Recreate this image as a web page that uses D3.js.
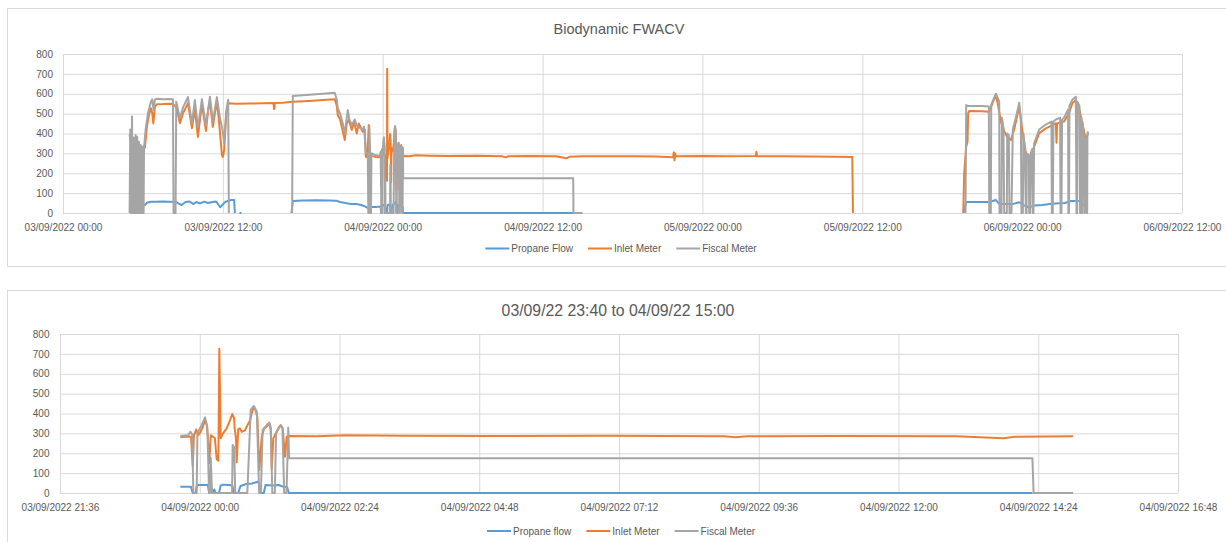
<!DOCTYPE html>
<html>
<head>
<meta charset="utf-8">
<script src="https://cdn.jsdelivr.net/npm/d3@7"></script>
<style>
  body { margin: 0; background: #fff; }
  svg { display: block; font-family: "Liberation Sans", Arial, sans-serif; }
</style>
</head>
<body>
<svg id="chart" width="1226" height="542"></svg>
<script>
// === Données (heures depuis le 03/09/2022 00:00, valeur) ===
const TOP_TICKS = ["03/09/2022 00:00", "03/09/2022 12:00", "04/09/2022 00:00", "04/09/2022 12:00",
  "05/09/2022 00:00", "05/09/2022 12:00", "06/09/2022 00:00", "06/09/2022 12:00"];
const ZOOM_TICKS = ["03/09/2022 21:36", "04/09/2022 00:00", "04/09/2022 02:24", "04/09/2022 04:48",
  "04/09/2022 07:12", "04/09/2022 09:36", "04/09/2022 12:00", "04/09/2022 14:24", "04/09/2022 16:48"];
const Y_TICKS = [0, 100, 200, 300, 400, 500, 600, 700, 800];
const ZOOM_FROM = "03/09/2022 23:40", ZOOM_TO = "04/09/2022 15:00";

const propaneFlow = [
  [5.0, 37], [5.3, 35], [5.6, 32], [6.0, 35], [6.15, 40], [6.3, 52], [6.6, 57], [7.0, 57], [7.5, 58],
  [8.0, 57], [8.5, 55], [8.9, 40], [9.2, 55], [9.5, 58], [9.8, 45], [10.0, 55], [10.3, 48], [10.6, 57],
  [10.9, 50], [11.2, 55], [11.5, 58], [11.8, 29], [12.2, 57], [12.6, 65], [12.85, 65], [12.9, 0],
  [12.95, null], [13.25, 0], [13.4, 0], [13.45, null],
  [17.15, 0], [17.25, 60], [18.0, 63], [19.0, 64], [20.0, 63], [20.5, 62], [20.8, 55], [21.2, 50],
  [21.6, 45], [22.0, 45], [22.4, 40], [22.7, 32], [22.9, 25], [23.2, 30], [23.5, 30],
  [23.667, 32], [23.85, 32], [23.88, 0], [23.93, 0], [23.95, 40], [24.14, 40], [24.16, 0], [24.2, 25],
  [24.22, 0], [24.25, 18], [24.27, 0], [24.33, 0], [24.36, 38], [24.4, 42], [24.5, 40], [24.56, 38],
  [24.59, 0], [24.66, 0], [24.7, 35], [24.8, 45], [24.9, 48], [25.0, 57], [25.02, 45], [25.04, 0],
  [25.1, 0], [25.13, 40], [25.25, 38], [25.35, 40], [25.45, 30], [25.5, 30], [25.53, 0], [38.3, 0],
  [38.35, null],
  [67.6, 0], [67.8, 55], [68.5, 55], [69.5, 55], [70.03, 65], [70.3, 45], [71.0, 45], [71.4, 47],
  [71.78, 54], [72.1, 40], [72.53, 27], [72.9, 38], [73.5, 40], [74.2, 47], [74.8, 49], [75.2, 50],
  [75.7, 60], [76.3, 60], [76.5, 48], [76.7, 35], [76.95, 32]
];

const inletMeter = [
  [5.0, 395], [5.1, 350], [5.2, 200], [5.25, 330], [5.35, 267], [5.5, 300], [5.6, 285], [5.75, 305],
  [5.9, 290], [6.05, 320], [6.15, 330], [6.3, 434], [6.45, 493], [6.6, 527], [6.7, 503], [6.78, 451],
  [6.9, 535], [7.05, 547], [7.5, 548], [8.0, 550], [8.25, 548], [8.4, 540], [8.55, 520], [8.78, 452],
  [9.0, 500], [9.38, 553], [9.68, 427], [9.9, 520], [10.13, 383], [10.3, 480], [10.43, 545],
  [10.73, 413], [10.9, 520], [11.03, 560], [11.25, 433], [11.4, 500], [11.55, 560], [11.7, 470],
  [11.93, 292], [12.0, 282], [12.1, 317], [12.25, 493], [12.4, 552], [13.0, 550], [14.0, 551],
  [15.0, 552], [15.8, 553], [15.85, 523], [15.9, 553], [16.5, 555], [17.25, 560], [18.5, 564],
  [19.5, 568], [20.4, 572], [20.55, 540], [20.63, 493], [20.8, 470], [21.15, 367], [21.3, 450],
  [21.45, 470], [21.68, 418], [21.85, 460], [22.05, 400], [22.2, 450], [22.35, 430], [22.5, 409],
  [22.65, 420], [22.73, 283], [22.85, 280], [22.95, 443], [23.02, 290], [23.3, 285], [23.5, 282],
  [23.667, 280], [23.75, 283], [23.85, 283], [23.88, 136], [23.9, 290], [23.94, 320], [23.97, 290],
  [24.0, 300], [24.05, 330], [24.09, 367], [24.12, 342], [24.14, 283], [24.164, 151], [24.19, 290],
  [24.228, 283], [24.26, 275], [24.291, 170], [24.32, 162], [24.336, 726], [24.36, 275], [24.4, 300],
  [24.46, 324], [24.52, 367], [24.559, 397], [24.59, 376], [24.6, 324], [24.622, 275], [24.635, 155],
  [24.66, 320], [24.69, 325], [24.72, 308], [24.777, 315], [24.817, 340], [24.863, 365], [24.92, 431],
  [24.96, 416], [24.99, 380], [25.023, 116], [25.064, 283], [25.104, 324], [25.15, 334], [25.194, 351],
  [25.22, 316], [25.236, 120], [25.263, 275], [25.32, 308], [25.361, 332], [25.39, 342], [25.425, 324],
  [25.464, 183], [25.493, 283], [25.55, 287],
  [26.0, 285], [26.5, 290], [27.5, 288], [29.0, 287], [31.0, 288], [33.0, 285], [33.2, 280], [33.4, 285],
  [35.0, 287], [37.0, 286], [37.8, 275], [38.0, 283], [39.0, 285], [41.0, 286], [43.0, 285], [44.5, 284],
  [45.8, 280], [45.85, 305], [45.9, 265], [45.95, 300], [46.0, 285], [48.0, 287], [50.0, 285],
  [52.0, 287], [52.05, 308], [52.1, 285], [54.0, 285], [56.0, 284], [58.0, 283], [59.25, 282],
  [59.3, 0], [59.31, null],
  [67.58, 0], [67.65, 200], [67.8, 334], [67.9, 359], [67.95, 502], [68.03, 513], [69.0, 512],
  [69.53, 510], [69.7, 540], [70.03, 594], [70.2, 540], [70.4, 460], [70.67, 409], [70.9, 380],
  [71.15, 367], [71.4, 420], [71.78, 535], [72.0, 420], [72.28, 302], [72.53, 275], [72.9, 334],
  [73.28, 402], [73.78, 426], [74.2, 440], [74.53, 451], [74.58, 354], [74.62, 450], [75.15, 460],
  [75.5, 500], [75.77, 552], [76.03, 568], [76.3, 520], [76.52, 451], [76.78, 367], [76.95, 402]
];

const fiscalMeter = [
  [5.0, 0], [5.05, 420], [5.1, 0], [5.15, 0], [5.18, 485], [5.22, 0], [5.28, 0], [5.3, 380], [5.35, 0],
  [5.42, 0], [5.45, 392], [5.5, 0], [5.54, 0], [5.57, 384], [5.62, 0], [5.67, 0], [5.7, 359], [5.75, 0],
  [5.8, 0], [5.83, 342], [5.88, 0], [5.92, 0], [5.95, 335], [6.0, 0], [6.05, 0], [6.08, 325], [6.2, 418],
  [6.38, 503], [6.6, 560], [6.7, 572], [6.8, 518], [6.9, 570], [7.05, 575], [7.5, 572], [8.0, 574],
  [8.25, 572], [8.3, 0], [8.45, 0], [8.5, 560], [8.78, 477], [9.0, 530], [9.38, 583], [9.68, 452],
  [9.9, 568], [10.13, 430], [10.43, 573], [10.73, 440], [11.03, 585], [11.25, 460], [11.55, 583],
  [11.78, 480], [12.0, 409], [12.1, 350], [12.25, 510], [12.4, 570], [12.45, 0], [12.5, null],
  [17.2, 0], [17.25, 589],
  [18.5, 595], [19.5, 600], [20.4, 605], [20.55, 570], [20.63, 528], [20.8, 500], [21.0, 450],
  [21.15, 400], [21.38, 518], [21.5, 470], [21.68, 443], [21.9, 470], [22.05, 440], [22.3, 428],
  [22.5, 420], [22.6, 435], [22.73, 302], [22.88, 300], [22.92, 0], [22.97, 0], [23.0, 434], [23.05, 300],
  [23.08, 0], [23.12, 0], [23.15, 300], [23.4, 292], [23.6, 290],
  [23.667, 287], [23.8, 290], [23.84, 308], [23.87, 295], [23.89, 0], [23.947, 0], [23.96, 300],
  [24.03, 340], [24.09, 381], [24.13, 332], [24.16, 0], [24.175, 0], [24.19, 176], [24.21, 0],
  [24.555, 0], [24.565, 241], [24.59, 230], [24.61, 0], [24.817, 0], [24.875, 418], [24.93, 438],
  [24.98, 409], [25.02, 0], [25.05, 0], [25.08, 317], [25.15, 342], [25.194, 354], [25.22, 330],
  [25.246, 0], [25.29, 0], [25.31, 300], [25.38, 337], [25.42, 330], [25.45, 0], [25.49, 0],
  [25.52, 330], [25.535, 175], [38.3, 175], [38.32, 0], [39.0, 0], [39.05, null],
  [67.75, 0], [67.8, 543], [68.0, 538], [69.0, 538], [69.5, 536], [69.53, 0], [69.65, 0], [69.68, 545],
  [70.03, 600], [70.28, 560], [70.3, 0], [70.45, 0], [70.48, 480], [70.6, 430], [70.65, 0], [70.85, 0],
  [70.88, 400], [71.0, 390], [71.05, 0], [71.2, 0], [71.3, 420], [71.6, 500], [71.78, 555], [71.9, 480],
  [71.95, 0], [72.05, 0], [72.1, 400], [72.2, 330], [72.28, 0], [72.33, 0], [72.35, 300], [72.5, 290],
  [72.53, 0], [72.6, 0], [72.65, 300], [72.75, 320], [72.8, 0], [72.85, 0], [72.9, 350], [73.28, 420],
  [73.78, 445], [74.2, 460], [74.23, 0], [74.3, 0], [74.35, 460], [74.53, 470], [74.85, 480], [74.88, 0],
  [74.95, 0], [75.0, 470], [75.15, 480], [75.45, 520], [75.47, 0], [75.52, 0], [75.55, 540], [75.77, 570],
  [76.03, 585], [76.08, 0], [76.13, 0], [76.15, 560], [76.3, 540], [76.35, 0], [76.4, 0], [76.45, 480],
  [76.48, 0], [76.5, 0], [76.52, 460], [76.6, 420], [76.67, 0], [76.7, 0], [76.75, 380], [76.85, 0],
  [76.88, 0], [76.9, 395], [76.95, 410]
];

// === Configuration ===
const TEXT_COLOR = "#595959";
const GRID_COLOR = "#d9d9d9";
const parseDate = d3.timeParse("%d/%m/%Y %H:%M");
const fmtDate = d3.timeFormat("%d/%m/%Y %H:%M");
const t0 = parseDate(TOP_TICKS[0]);
const toDate = h => new Date(+t0 + h * 3600e3);

const svg = d3.select('#chart');
svg.append('rect').attr('width', 1226).attr('height', 542).attr('fill', '#fff');

function drawChart(opts) {
  const g = svg.append('g');
  const tickDates = opts.ticks.map(parseDate);

  // cadre
  g.append('rect')
    .attr('x', opts.frame[0] + 0.5).attr('y', opts.frame[1] + 0.5)
    .attr('width', opts.frame[2]).attr('height', opts.frame[3])
    .attr('fill', 'none').attr('stroke', GRID_COLOR);

  const x = d3.scaleTime().domain([tickDates[0], tickDates[tickDates.length - 1]]).range([opts.left, opts.right]);
  const y = d3.scaleLinear().domain([0, 800]).range([opts.bottom, opts.top]);

  // axes + grille
  const yAxis = g.append('g').attr('transform', `translate(${opts.left},0)`)
    .call(d3.axisLeft(y).tickValues(Y_TICKS).tickSize(-(opts.right - opts.left)).tickPadding(opts.yPad));
  const xAxis = g.append('g').attr('transform', `translate(0,${opts.bottom})`)
    .call(d3.axisBottom(x).tickValues(tickDates).tickFormat(fmtDate).tickSize(-(opts.bottom - opts.top)).tickPadding(11));
  [yAxis, xAxis].forEach(a => {
    a.select('.domain').remove();
    a.selectAll('line').attr('stroke', GRID_COLOR);
    a.selectAll('text').attr('fill', TEXT_COLOR).style('font-size', '10px')
      .style('font-family', '"Liberation Sans", Arial, sans-serif');
  });

  // séries
  const line = d3.line()
    .defined(d => d[1] != null)
    .x(d => x(toDate(d[0])))
    .y(d => y(d[1]));

  opts.series.forEach(s => {
    let pts = s.data;
    if (opts.from) {
      pts = pts.filter(d => toDate(d[0]) >= opts.from && toDate(d[0]) <= opts.to);
    }
    g.append('path')
      .datum(pts)
      .attr('d', line)
      .attr('fill', 'none')
      .attr('stroke', s.color)
      .attr('stroke-width', 2)
      .attr('stroke-linejoin', 'round');
  });

  // titre
  g.append('text')
    .attr('x', opts.titleX).attr('y', opts.titleY)
    .attr('text-anchor', 'middle')
    .attr('fill', TEXT_COLOR)
    .style('font-size', opts.titleSize + 'px')
    .text(opts.title);

  // légende
  const legend = g.append('g');
  let cx = 0;
  opts.series.forEach(s => {
    const item = legend.append('g').attr('transform', `translate(${cx},0)`);
    item.append('line').attr('x1', 0).attr('x2', 24).attr('y1', 0).attr('y2', 0)
      .attr('stroke', s.color).attr('stroke-width', 2);
    const t = item.append('text').attr('x', 26).attr('y', 3.5)
      .attr('fill', TEXT_COLOR).style('font-size', '10px').text(s.name);
    cx += 26 + t.node().getComputedTextLength() + 15;
  });
  const legendW = cx - 15;
  legend.attr('transform', `translate(${opts.legendCX - legendW / 2},${opts.legendY})`);
}

drawChart({
  frame: [7, 8, 1220, 258],
  left: 63, right: 1182, top: 54, bottom: 213, yPad: 10,
  ticks: TOP_TICKS,
  title: "Biodynamic FWACV", titleX: 619, titleY: 34, titleSize: 14.5,
  legendCX: 621, legendY: 248.5,
  series: [
    { name: "Propane Flow", data: propaneFlow, color: "#5b9bd5" },
    { name: "Inlet Meter", data: inletMeter, color: "#ed7d31" },
    { name: "Fiscal Meter", data: fiscalMeter, color: "#a5a5a5" }
  ]
});

drawChart({
  frame: [7, 290, 1220, 270],
  left: 60, right: 1178, top: 334, bottom: 493, yPad: 10.5,
  ticks: ZOOM_TICKS,
  from: parseDate(ZOOM_FROM), to: parseDate(ZOOM_TO),
  title: "03/09/22 23:40 to 04/09/22 15:00", titleX: 618, titleY: 316, titleSize: 15.8,
  legendCX: 621, legendY: 531,
  series: [
    { name: "Propane flow", data: propaneFlow, color: "#5b9bd5" },
    { name: "Inlet Meter", data: inletMeter, color: "#ed7d31" },
    { name: "Fiscal Meter", data: fiscalMeter, color: "#a5a5a5" }
  ]
});
</script>
</body>
</html>
